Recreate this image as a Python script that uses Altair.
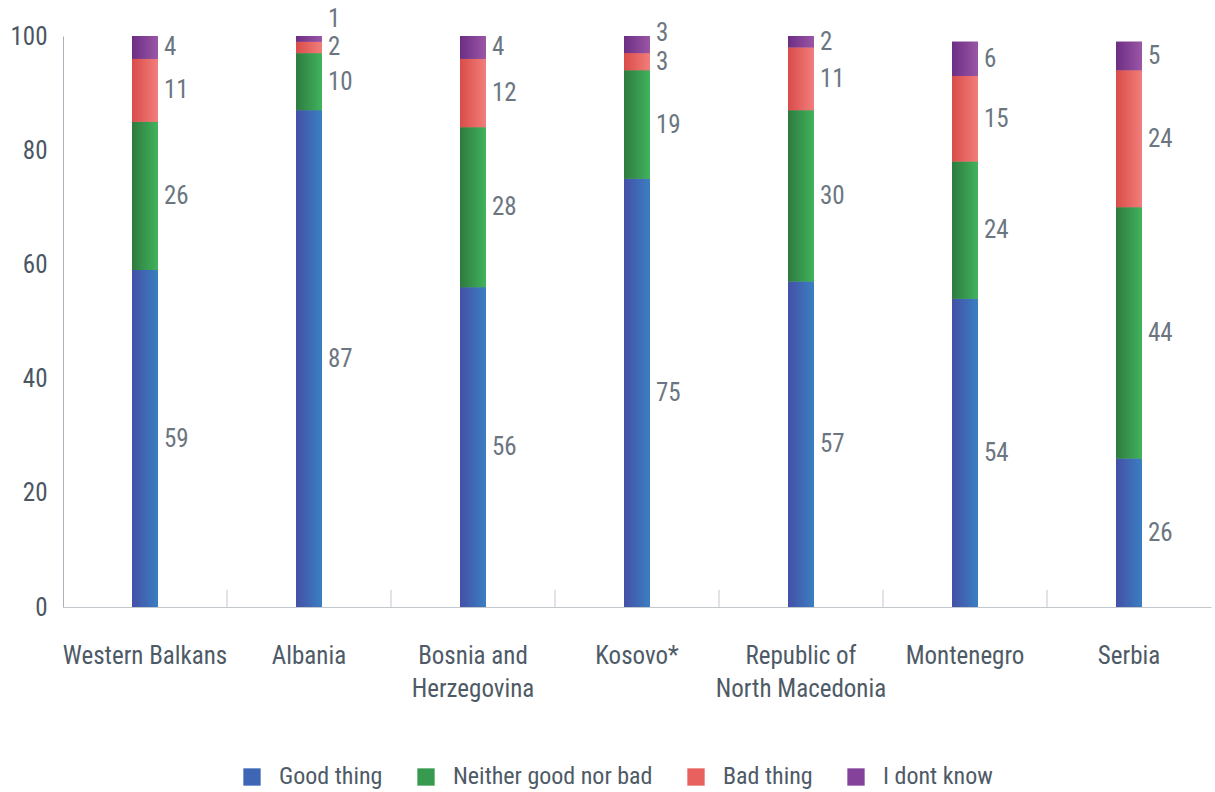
import altair as alt
import pandas as pd

categories = ["Western Balkans", "Albania", "Bosnia and Herzegovina", "Kosovo*",
              "Republic of North Macedonia", "Montenegro", "Serbia"]
wrapped = {"Bosnia and Herzegovina": ["Bosnia and", "Herzegovina"],
           "Republic of North Macedonia": ["Republic of", "North Macedonia"]}
series = ["Good thing", "Neither good nor bad", "Bad thing", "I dont know"]
good = [59, 87, 56, 75, 57, 54, 26]
neither = [26, 10, 28, 19, 30, 24, 44]
bad = [11, 2, 12, 3, 11, 15, 24]
dont_know = [4, 1, 4, 3, 2, 6, 5]

solid = ["#3d66b5", "#379a4f", "#e8615e", "#84429a"]
grad_stops = [("#4550a6", "#3a7fc2"), ("#2e7a3f", "#40b45c"),
              ("#d94c48", "#f17e7b"), ("#6c2e84", "#9b56a6")]

FONT = "Liberation Sans Narrow, Roboto Condensed, Roboto"

rows = []
for i, c in enumerate(categories):
    start = 0
    prev_mid = None
    for s, vals in zip(series, [good, neither, bad, dont_know]):
        v = vals[i]
        mid = start + v / 2
        label_y = mid
        if prev_mid is not None and label_y < prev_mid + 5:
            label_y = prev_mid + 5
        rows.append({"cat": c, "series": s, "value": v, "start": start,
                     "end": start + v, "label_y": label_y})
        prev_mid = label_y
        start += v
df = pd.DataFrame(rows)

label_expr = "datum.label"
for k, v in wrapped.items():
    label_expr = f"datum.label == '{k}' ? ['{v[0]}', '{v[1]}'] : " + label_expr

x_enc = alt.X("cat:N", sort=categories, scale=alt.Scale(domain=categories, paddingInner=0, paddingOuter=0),
              axis=alt.Axis(title=None, labelAngle=0, ticks=False, domainColor="#c3c8cd",
                            labelFont=FONT, labelFontSize=25, labelColor="#4e5a66",
                            labelPadding=48, labelExpr=label_expr, labelLineHeight=33,
                            labelBaseline="middle"))
y_scale = alt.Scale(domain=[0, 100], nice=False)
y_enc = alt.Y("start:Q", scale=y_scale,
              axis=alt.Axis(title=None, values=[0, 20, 40, 60, 80, 100], grid=False, ticks=False,
                            domainColor="#aab1b8", labelFont=FONT, labelFontSize=25,
                            labelColor="#4b5663", labelPadding=16))

base = alt.Chart(df).mark_bar(size=26).encode(
    x=x_enc, y=y_enc, y2="end:Q",
    color=alt.Color("series:N", scale=alt.Scale(domain=series, range=solid), sort=series,
                    legend=alt.Legend(title=None, orient="none", legendX=177, legendY=729,
                                      direction="horizontal",
                                      symbolType="square", symbolSize=300, symbolStrokeWidth=0,
                                      labelFont=FONT, labelFontSize=24, labelColor="#4e5a66",
                                      labelLimit=0, labelOffset=15, columnPadding=31)),
)

layers = [base]
for s, (c0, c1) in zip(series, grad_stops):
    g = alt.Gradient(gradient="linear", x1=0, x2=1, y1=0, y2=0,
                     stops=[alt.GradientStop(color=c0, offset=0), alt.GradientStop(color=c1, offset=1)])
    layers.append(
        alt.Chart(df).transform_filter(alt.datum.series == s).mark_bar(size=26, color=g).encode(
            x=alt.X("cat:N", sort=categories), y="start:Q", y2="end:Q")
    )

labels = alt.Chart(df).mark_text(align="left", baseline="middle", dx=19, font=FONT,
                                 fontSize=25, color="#6b7681").encode(
    x=alt.X("cat:N", sort=categories), y="label_y:Q", text="value:Q")
layers.append(labels)

ticks_df = pd.DataFrame({"cat": categories[1:]})
ticks = alt.Chart(ticks_df).mark_rule(color="#c3c8cd", strokeWidth=1).encode(
    x=alt.X("cat:N", sort=categories, bandPosition=0), y=alt.datum(0), y2=alt.datum(3))
layers.append(ticks)

chart = alt.layer(*layers).properties(
    width=1148, height=571,
    autosize=alt.AutoSizeParams(type="none"),
    padding={"left": 63, "top": 36, "right": 4, "bottom": 185},
).configure_view(stroke=None)

chart.save("out.html", embed_options={"renderer": "svg", "actions": False})
